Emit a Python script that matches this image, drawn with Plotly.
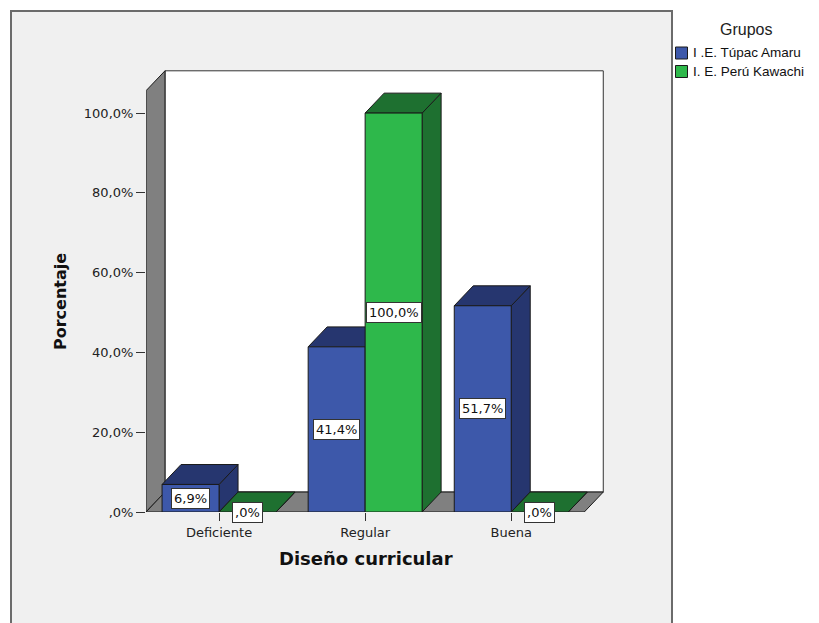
import plotly.graph_objects as go

# ---------------- data ----------------
categories = ["Deficiente", "Regular", "Buena"]
groups = ["I .E. Túpac Amaru", "I. E. Perú Kawachi"]
tupac_amaru = [6.9, 41.4, 51.7]
peru_kawachi = [0.0, 100.0, 0.0]
y_tick_values = [0, 20, 40, 60, 80, 100]
y_tick_labels = [",0%", "20,0%", "40,0%", "60,0%", "80,0%", "100,0%"]
x_title = "Diseño curricular"
y_title = "Porcentaje"
legend_title = "Grupos"

series = [tupac_amaru, peru_kawachi]

# ---------------- style ----------------
FRONT = ["#3D58AA", "#2EB84B"]
DARK = ["#26366F", "#1E7030"]
EDGE = "#1a1a1a"
WALL = "#808080"
PANEL = "#F0F0F0"

W = 0.39      # bar width (category units)
DX = 0.13     # depth offset in x units
DY = 5.0      # depth offset in y units
TOP = 105.6   # front top of the wall
X0, X1 = -0.5, 2.5

FIG_W, FIG_H = 819, 623
ML, MR, MT, MB = 146, 215, 70, 111
PW = FIG_W - ML - MR
PH = FIG_H - MT - MB


def px(x):
    return (x - ML) / PW


def py(y):
    return (FIG_H - MB - y) / PH


def poly(xs, ys, fill, line=EDGE):
    return go.Scatter(x=xs + [xs[0]], y=ys + [ys[0]], mode="lines", fill="toself",
                      fillcolor=fill, line=dict(color=line, width=1),
                      hoverinfo="skip", showlegend=False)


def fmt(v):
    s = f"{v:.1f}".replace(".", ",")
    if s.startswith("0,"):
        s = s[1:]
    return s + "%"


fig = go.Figure()

# walls and floor
fig.add_trace(poly([X0 + DX, X1 + DX, X1 + DX, X0 + DX], [DY, DY, TOP + DY, TOP + DY], "white", "#333333"))
fig.add_trace(poly([X0, X0 + DX, X0 + DX, X0], [0, DY, TOP + DY, TOP], WALL))
fig.add_trace(poly([X0, X1, X1 + DX, X0 + DX], [0, 0, DY, DY], WALL))

annotations = []
for i, cat in enumerate(categories):
    for s, vals in enumerate(series):
        v = vals[i]
        x0 = i - W + s * W
        x1 = x0 + W
        fig.add_trace(poly([x1, x1 + DX, x1 + DX, x1], [0, DY, v + DY, v], DARK[s]))
        fig.add_trace(poly([x0, x1, x1 + DX, x0 + DX], [v, v, v + DY, v + DY], DARK[s]))
        if v > 0:
            fig.add_trace(poly([x0, x1, x1, x0], [0, 0, v, v], FRONT[s]))
        annotations.append(dict(x=x0 + W / 2, y=v / 2, xref="x", yref="y", text=fmt(v),
                                xanchor="center", yanchor="middle",
                                showarrow=False, bgcolor="white", bordercolor="#333333",
                                borderwidth=1, borderpad=2,
                                font=dict(family="DejaVu Sans", size=13, color="#111111")))

# axis titles
annotations.append(dict(x=px(366), y=py(558), xref="paper", yref="paper", text=f"<b>{x_title}</b>",
                        xanchor="center", yanchor="middle",
                        showarrow=False, font=dict(family="DejaVu Sans", size=18, color="#111111")))
annotations.append(dict(x=px(60), y=py(302), xref="paper", yref="paper", text=f"<b>{y_title}</b>",
                        xanchor="center", yanchor="middle",
                        showarrow=False, textangle=-90,
                        font=dict(family="DejaVu Sans", size=16, color="#111111")))

# legend (manual)
annotations.append(dict(x=px(746), y=py(29), xref="paper", yref="paper", text=legend_title,
                        xanchor="center", yanchor="middle",
                        showarrow=False, font=dict(family="Liberation Sans", size=16, color="#222222")))
shapes = [dict(type="rect", xref="paper", yref="paper", x0=px(11), x1=px(672), y0=py(660), y1=py(11),
               fillcolor=PANEL, line=dict(color="#6b6b6b", width=2), layer="below")]
for s, g in enumerate(groups):
    yc = 53 + 18.5 * s
    shapes.append(dict(type="rect", xref="paper", yref="paper", x0=px(675.5), x1=px(687.5),
                       y0=py(yc + 6), y1=py(yc - 6), fillcolor=FRONT[s],
                       line=dict(color=EDGE, width=1)))
    annotations.append(dict(x=px(691), y=py(yc), xref="paper", yref="paper", text=g,
                            xanchor="left", yanchor="middle", showarrow=False,
                            font=dict(family="Liberation Sans", size=13.5, color="#111111")))

fig.update_layout(
    width=FIG_W, height=FIG_H,
    margin=dict(l=ML, r=MR, t=MT, b=MB, autoexpand=False),
    paper_bgcolor="white", plot_bgcolor=PANEL,
    showlegend=False,
    annotations=annotations, shapes=shapes,
    xaxis=dict(range=[X0, X1 + DX + 0.005], tickvals=list(range(len(categories))), ticktext=categories,
               ticks="outside", ticklen=8, tickcolor="#333333", showgrid=False, zeroline=False,
               showline=False, fixedrange=True,
               tickfont=dict(family="DejaVu Sans", size=13, color="#222222")),
    yaxis=dict(range=[0, TOP + DY + 0.2], tickvals=y_tick_values, ticktext=y_tick_labels,
               ticks="outside", ticklen=9, tickcolor="#333333", showgrid=False, zeroline=False,
               showline=False, fixedrange=True,
               tickfont=dict(family="DejaVu Sans", size=13, color="#222222")),
)

fig.write_html("out.html")
